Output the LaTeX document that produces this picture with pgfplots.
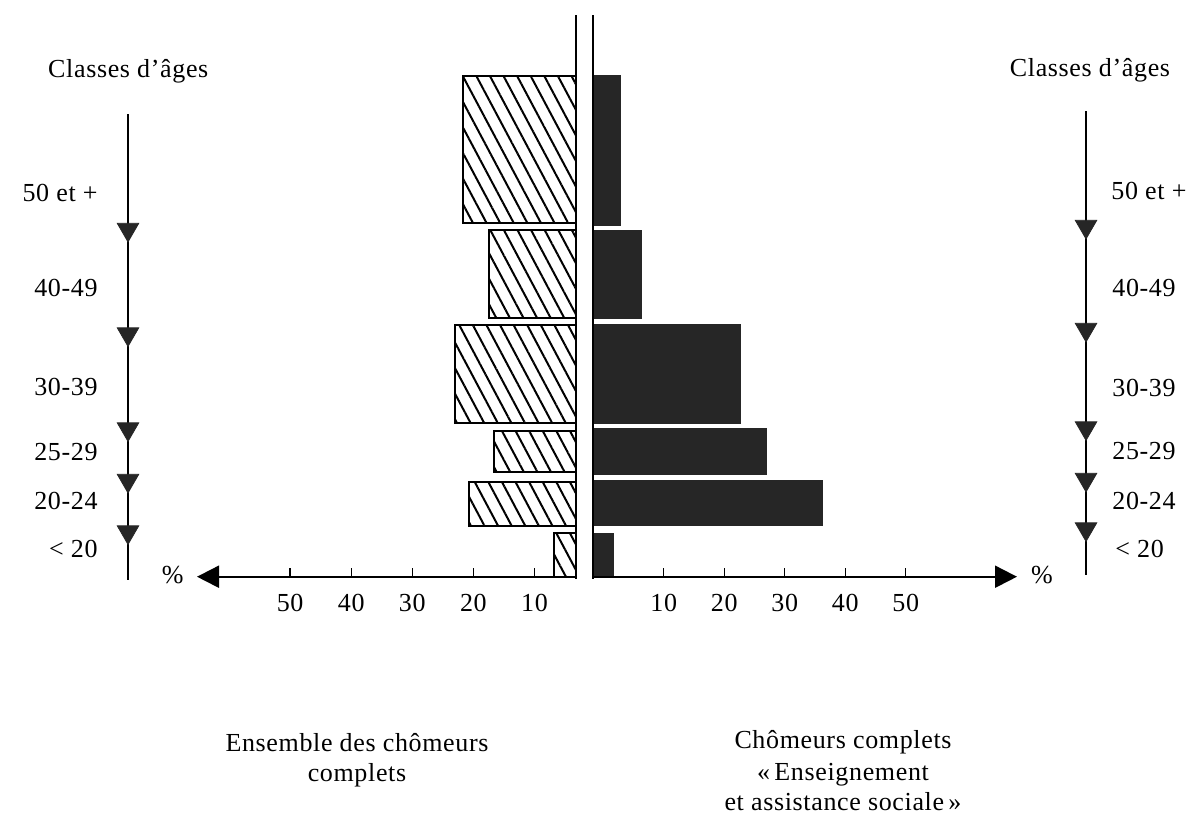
\documentclass[border=0pt]{standalone}
\usepackage{fontspec}
\setmainfont{Liberation Serif}[LetterSpace=2.5]
\usepackage{pgfplots}
\pgfplotsset{compat=1.18}
\usetikzlibrary{patterns.meta,arrows.meta}

\pgfplotsset{
  pyr/.style={
    scale only axis, height=288.35pt, anchor=south west,
    ymin=0, ymax=576.7, y dir=reverse, clip=false,
    axis x line*=bottom, axis y line=none,
    x axis line style={draw=none},
    xtick={10,20,30,40,50}, xticklabels={10,20,30,40,50},
    tick align=inside, major tick length=4.2pt,
    tick style={line width=0.7pt, black},
    xticklabel style={font=\fontsize{13}{15}\selectfont, yshift=-5pt},
    /pgf/number format/assume math mode=true,
  },
  hatch/.style={draw=black, line width=1pt,
    pattern={Lines[angle=-62, distance=6pt, line width=1pt]}},
  dark/.style={draw=black!85, fill=black!85, line width=0.5pt},
}

\begin{document}
\begin{tikzpicture}[lbl/.style={font=\fontsize{13}{15}\selectfont, inner sep=0pt}]
\path[use as bounding box] (0,0) rectangle (597.5pt,-408pt);

% ---------- left half: Ensemble des chomeurs complets ----------
\begin{axis}[pyr, at={(0pt,-288.35pt)}, width=288pt,
  x dir=reverse, xmin=3.21, xmax=97.48]
% 50 et +
\addplot[hatch] coordinates {(3.21,75.7) (21.7,75.7) (21.7,222.7) (3.21,222.7)} -- cycle;
% 40-49
\addplot[hatch] coordinates {(3.21,230) (17.4,230) (17.4,318) (3.21,318)} -- cycle;
% 30-39
\addplot[hatch] coordinates {(3.21,325) (23.0,325) (23.0,422.7) (3.21,422.7)} -- cycle;
% 25-29
\addplot[hatch] coordinates {(3.21,430.7) (16.7,430.7) (16.7,471.7) (3.21,471.7)} -- cycle;
% 20-24
\addplot[hatch] coordinates {(3.21,481.7) (20.8,481.7) (20.8,525.7) (3.21,525.7)} -- cycle;
% < 20
\addplot[hatch] coordinates {(3.21,533.3) (6.8,533.3) (6.8,576.7) (3.21,576.7)} -- cycle;
% age axis
\addplot[line width=0.75pt] coordinates {(76.53,114) (76.53,580)};
\addplot[only marks, mark=triangle*, mark size=6.2pt,
  mark options={rotate=180, fill=black!85, draw=black!85}]
  coordinates {(76.53,229.5) (76.53,334) (76.53,429) (76.53,480.5) (76.53,532)};
\end{axis}

% ---------- right half: Enseignement et assistance sociale ----------
\begin{axis}[pyr, at={(296.5pt,-288.35pt)}, width=301pt,
  xmin=-1.70, xmax=97.8]
\addplot[dark] coordinates {(-1.70,75) (2.8,75) (2.8,225) (-1.70,225)} -- cycle;
\addplot[dark] coordinates {(-1.70,230) (6.3,230) (6.3,318) (-1.70,318)} -- cycle;
\addplot[dark] coordinates {(-1.70,324) (22.6,324) (22.6,423.3) (-1.70,423.3)} -- cycle;
\addplot[dark] coordinates {(-1.70,428.3) (27.0,428.3) (27.0,474) (-1.70,474)} -- cycle;
\addplot[dark] coordinates {(-1.70,480.7) (36.2,480.7) (36.2,525.7) (-1.70,525.7)} -- cycle;
\addplot[dark] coordinates {(-1.70,533) (1.7,533) (1.7,577) (-1.70,577)} -- cycle;
% age axis
\addplot[line width=0.75pt] coordinates {(79.79,111) (79.79,575)};
\addplot[only marks, mark=triangle*, mark size=6.2pt,
  mark options={rotate=180, fill=black!85, draw=black!85}]
  coordinates {(79.79,226.5) (79.79,329.5) (79.79,428) (79.79,479.5) (79.79,529)};
\end{axis}

% ---------- decorations in picture pixels ----------
\begin{scope}[x=0.5pt, y=-0.5pt]
\draw[line width=1pt, -{Triangle[length=11pt,width=11pt]}] (576,576.7) -- (197,576.7);
\draw[line width=1pt, -{Triangle[length=11pt,width=11pt]}] (593,576.7) -- (1017,576.7);
\fill[white] (576.5,15) rectangle (592.5,579);
\draw[line width=1pt] (576,15) -- (576,579);
\draw[line width=1pt] (593,15) -- (593,579);

\node[lbl, anchor=base] at (172.7,583) {\%};
\node[lbl, anchor=base] at (1042,583) {\%};

\node[lbl, anchor=base] at (128.3,77.7) {Classes d’âges};
\node[lbl, anchor=base] at (1090,76) {Classes d’âges};

\node[lbl, anchor=base east] at (98,201.7) {50 et +};
\node[lbl, anchor=base east] at (98,296) {40-49};
\node[lbl, anchor=base east] at (98,395.7) {30-39};
\node[lbl, anchor=base east] at (98,460.7) {25-29};
\node[lbl, anchor=base east] at (98,509.3) {20-24};
\node[lbl, anchor=base east] at (98,557.3) {< 20};

\node[lbl, anchor=base west] at (1111,199.3) {50 et +};
\node[lbl, anchor=base west] at (1112,296) {40-49};
\node[lbl, anchor=base west] at (1112,396) {30-39};
\node[lbl, anchor=base west] at (1112,459.3) {25-29};
\node[lbl, anchor=base west] at (1112,509.3) {20-24};
\node[lbl, anchor=base west] at (1115,557.3) {< 20};

\node[lbl, anchor=base] at (357,751.7) {Ensemble des chômeurs};
\node[lbl, anchor=base] at (357,781.7) {complets};
\node[lbl, anchor=base] at (843,748.3) {Chômeurs complets};
\node[lbl, anchor=base] at (843,780) {«\,Enseignement};
\node[lbl, anchor=base] at (843,810.7) {et assistance sociale\,»};
\end{scope}
\end{tikzpicture}
\end{document}
